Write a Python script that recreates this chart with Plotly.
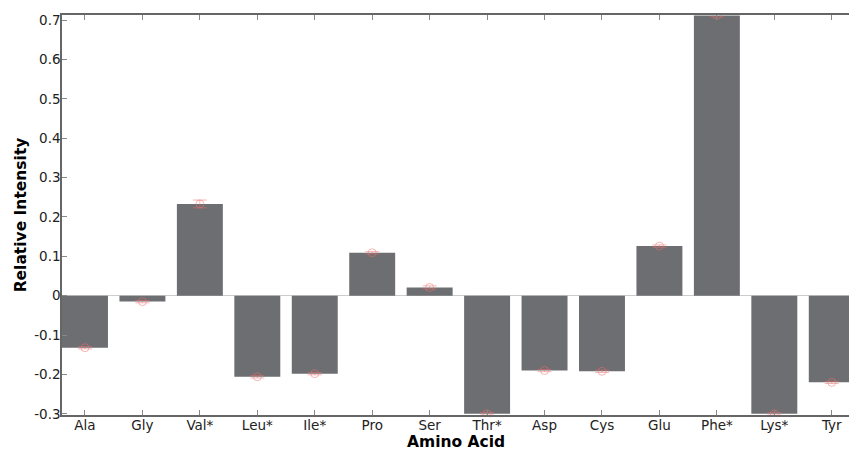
import plotly.graph_objects as go

# Amino acids and their relative intensities (mean values with standard errors)
amino_acids = ["Ala", "Gly", "Val*", "Leu*", "Ile*", "Pro", "Ser", "Thr*",
               "Asp", "Cys", "Glu", "Phe*", "Lys*", "Tyr"]
intensity = [-0.132, -0.015, 0.233, -0.206, -0.198, 0.109, 0.021, -0.300,
             -0.190, -0.192, 0.126, 0.712, -0.300, -0.220]
std_err = [0.003, 0.003, 0.010, 0.003, 0.003, 0.003, 0.004, 0.003,
           0.003, 0.003, 0.003, 0.004, 0.003, 0.003]

y_ticks = [-0.3, -0.2, -0.1, 0, 0.1, 0.2, 0.3, 0.4, 0.5, 0.6, 0.7]
y_tick_text = ["-0.3", "-0.2", "-0.1", "0", "0.1", "0.2", "0.3", "0.4",
               "0.5", "0.6", "0.7"]

x_idx = list(range(len(amino_acids)))

fig = go.Figure()
fig.add_trace(go.Bar(
    x=x_idx, y=intensity, width=0.8,
    marker=dict(color="#6d6e71", line=dict(width=0)),
    hoverinfo="skip", showlegend=False,
))
fig.add_trace(go.Scatter(
    x=x_idx, y=intensity, mode="markers",
    marker=dict(symbol="circle-open", size=8,
                color="rgba(240,110,110,0.5)", line=dict(width=1)),
    error_y=dict(type="data", array=std_err, visible=True,
                 color="rgba(240,110,110,0.5)", thickness=1, width=7),
    showlegend=False, cliponaxis=True,
))

font_family = "DejaVu Sans, Verdana, sans-serif"
axis_font = dict(family=font_family, size=13.5, color="#222")
title_font = dict(family=font_family, size=15.5, color="#000")

fig.update_layout(
    width=849, height=450,
    margin=dict(l=62, r=0, t=15, b=35),
    paper_bgcolor="white", plot_bgcolor="white",
    bargap=0.2,
    annotations=[dict(
        text="<b>Amino Acid</b>", xref="paper", yref="paper",
        x=0.5, y=-0.068, xanchor="center", yanchor="middle",
        showarrow=False, font=title_font,
    )],
)
fig.update_xaxes(
    range=[-0.4, 13.3],
    tickvals=x_idx, ticktext=amino_acids,
    ticks="inside", ticklen=5, tickcolor="#888", tickwidth=1,
    showline=True, linecolor="#666", linewidth=1.5, mirror="ticks",
    showgrid=False, zeroline=False,
    tickfont=axis_font, ticklabelstandoff=-3,
)
fig.update_yaxes(
    range=[-0.303, 0.713],
    tickvals=y_ticks, ticktext=y_tick_text,
    ticks="inside", ticklen=5, tickcolor="#888", tickwidth=1,
    showline=True, linecolor="#666", linewidth=1.5, mirror=False,
    showgrid=False,
    zeroline=True, zerolinecolor="#cccccc", zerolinewidth=1,
    tickfont=axis_font, ticklabelstandoff=-3,
    title=dict(text="<b>Relative Intensity</b>", font=title_font, standoff=4),
)

fig.write_html("out.html")
